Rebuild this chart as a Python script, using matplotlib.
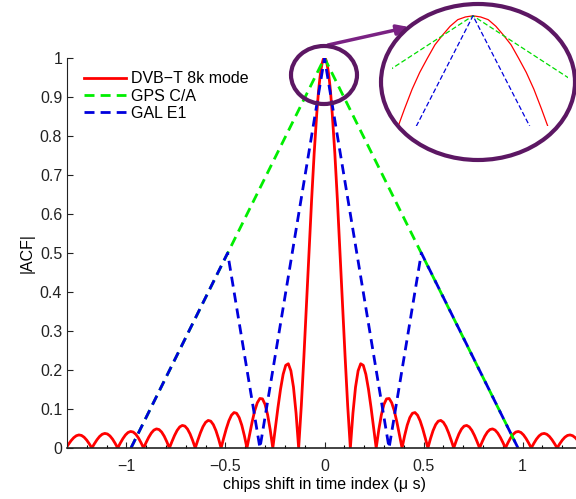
import numpy as np
import matplotlib
matplotlib.use('Agg')
import matplotlib.pyplot as plt
from matplotlib.patches import Ellipse

plt.rcParams['font.family'] = ['Liberation Sans', 'DejaVu Sans']

###############################################################################################
# Data (right half of the DVB-T ACF, mirrored below)
dvb_x_half = [
    0.0, 0.0025, 0.005, 0.0075, 0.010, 0.0125, 0.015, 0.0175, 0.020, 0.0225, 0.025, 0.030,
    0.039, 0.052, 0.065, 0.078, 0.091, 0.104, 0.117, 0.1305,
    0.1436, 0.1566, 0.1697, 0.1827, 0.1958, 0.2088, 0.2219, 0.2349, 0.2480, 0.2610,
    0.2741, 0.2871, 0.3002, 0.3132, 0.3263, 0.3393, 0.3524, 0.3654, 0.3785, 0.3915,
    0.4046, 0.4176, 0.4307, 0.4437, 0.4568, 0.4698, 0.4829, 0.4959, 0.5090, 0.5220,
    0.5351, 0.5481, 0.5612, 0.5742, 0.5873, 0.6003, 0.6134, 0.6264, 0.6395, 0.6525,
    0.6656, 0.6786, 0.6917, 0.7047, 0.7178, 0.7308, 0.7439, 0.7569, 0.7700, 0.7830,
    0.7961, 0.8091, 0.8222, 0.8352, 0.8483, 0.8613, 0.8744, 0.8874, 0.9005, 0.9135,
    0.9266, 0.9396, 0.9527, 0.9657, 0.9788, 0.9918, 1.0049, 1.0179, 1.0310, 1.0440,
    1.0571, 1.0701, 1.0832, 1.0962, 1.1093, 1.1223, 1.1354, 1.1484, 1.1615, 1.1745,
    1.1876, 1.2006, 1.2137, 1.2267, 1.2398, 1.2528, 1.2659, 1.2789, 1.2920, 1.3050,
]
dvb_y_half = [
    1.0, 0.9994, 0.998, 0.9946, 0.990, 0.985, 0.978, 0.9707, 0.962, 0.9518, 0.941, 0.916,
    0.858, 0.757, 0.637, 0.505, 0.368, 0.234, 0.109, 0.0,
    0.0894, 0.156, 0.198, 0.216, 0.212, 0.189, 0.151, 0.104, 0.0518, 0.0,
    0.0468, 0.0851, 0.112, 0.126, 0.127, 0.116, 0.0954, 0.0668, 0.0339, 0.0,
    0.0317, 0.0585, 0.0780, 0.0890, 0.0909, 0.0841, 0.0696, 0.0493, 0.0252, 0.0,
    0.0240, 0.0446, 0.0599, 0.0688, 0.0707, 0.0658, 0.0548, 0.0390, 0.0201, 0.0,
    0.0193, 0.0360, 0.0486, 0.0561, 0.0579, 0.0541, 0.0452, 0.0323, 0.0167, 0.0,
    0.0161, 0.0302, 0.0409, 0.0473, 0.0490, 0.0459, 0.0384, 0.0275, 0.0143, 0.0,
    0.0139, 0.0260, 0.0353, 0.0409, 0.0424, 0.0398, 0.0334, 0.0240, 0.0125, 0.0,
    0.0121, 0.0228, 0.0310, 0.0360, 0.0374, 0.0352, 0.0296, 0.0213, 0.0111, 0.0,
    0.0108, 0.0203, 0.0277, 0.0322, 0.0335, 0.0315, 0.0265, 0.0191, 0.0099, 0.0,
]

gps_x = [-0.977, 0.0, 0.977]
gps_y = [0.0, 1.0, 0.0]

gal_x = [-0.977, -0.489, -0.326, 0.0, 0.326, 0.489, 0.977]
gal_y = [0.0, 0.5, 0.0, 1.0, 0.0, 0.5, 0.0]

xticks = [-1, -0.5, 0, 0.5, 1]
xtick_labels = ['\u22121', '\u22120.5', '0', '0.5', '1']
yticks = [0, 0.1, 0.2, 0.3, 0.4, 0.5, 0.6, 0.7, 0.8, 0.9, 1]
ytick_labels = ['0', '0.1', '0.2', '0.3', '0.4', '0.5', '0.6', '0.7', '0.8', '0.9', '1']

# Mirror the half curve
dvb_x = np.concatenate([-np.array(dvb_x_half[:0:-1]), np.array(dvb_x_half)])
dvb_y = np.concatenate([np.array(dvb_y_half[:0:-1]), np.array(dvb_y_half)])

###############################################################################################
# Main plot
fig = plt.figure(figsize=(5.76, 4.99), dpi=100)
ax = fig.add_axes([67 / 576, 51 / 499, 515 / 576, 390 / 499])

ax.plot(dvb_x, dvb_y, color='#ff0000', linewidth=2.0, label='DVB\u2212T 8k mode')
ax.plot(gps_x, gps_y, color='#00ee00', linewidth=2.0, dashes=(3.6, 2.2), label='GPS C/A')
ax.plot(gal_x, gal_y, color='#0000dd', linewidth=2.0, dashes=(3.6, 2.2), label='GAL E1')

ax.set_xlim(-1.3, 1.3)
ax.set_ylim(0, 1)
ax.set_xticks(xticks)
ax.set_xticklabels(xtick_labels)
ax.set_xticks(np.arange(-1.2, 1.25, 0.1), minor=True)
ax.set_yticks(yticks)
ax.set_yticklabels(ytick_labels)
ax.tick_params(direction='in', length=4, width=0.8, labelsize=11.5, colors='#222222')
ax.tick_params(which='minor', direction='in', length=2.5, width=0.8)
ax.tick_params(axis='x', pad=8)
for s in ['top', 'right']:
    ax.spines[s].set_visible(False)
for s in ['left', 'bottom']:
    ax.spines[s].set_color('#222222')
ax.spines['bottom'].set_linewidth(1.2)

ax.set_xlabel('chips shift in time index (\u03bc s)', fontsize=11.5, labelpad=2)
ax.set_ylabel('|ACF|', fontsize=11.5, labelpad=4)

ax.legend(loc='upper left', bbox_to_anchor=(0.012, 0.995), frameon=False, fontsize=11.5,
          handlelength=2.6, handletextpad=0.3, labelspacing=0.15, borderaxespad=0.3)

###############################################################################################
# Zoomed inset
ins = fig.add_axes([392 / 576, (499 - 126) / 499, 176 / 576, 116 / 499])
ins.plot(dvb_x, dvb_y, color='#ff0000', linewidth=0.9)
ins.plot(gps_x, gps_y, color='#00dd00', linewidth=0.9, dashes=(4, 2))
ins.plot(gal_x, gal_y, color='#0000dd', linewidth=0.9, dashes=(4, 2))
ins.set_xlim(-0.0266, 0.0312)
ins.set_ylim(0.943, 1.003)
ins.axis('off')

purple = '#5c1763'
fig.add_artist(Ellipse((478 / 576, 1 - 82 / 499), 194 / 576, 156 / 499,
                       transform=fig.transFigure, fill=False, edgecolor=purple, linewidth=3))
fig.add_artist(Ellipse((324 / 576, 1 - 75 / 499), 66 / 576, 58 / 499,
                       transform=fig.transFigure, fill=False, edgecolor=purple, linewidth=3))
ax.annotate('', xy=(409 / 576, 1 - 27 / 499), xycoords='figure fraction',
            xytext=(328 / 576, 1 - 45 / 499), textcoords='figure fraction',
            arrowprops=dict(arrowstyle='-|>,head_length=0.7,head_width=0.3',
                            color='#7a2283', linewidth=2.5, shrinkA=0, shrinkB=0))

fig.savefig('out.png', dpi=100)
